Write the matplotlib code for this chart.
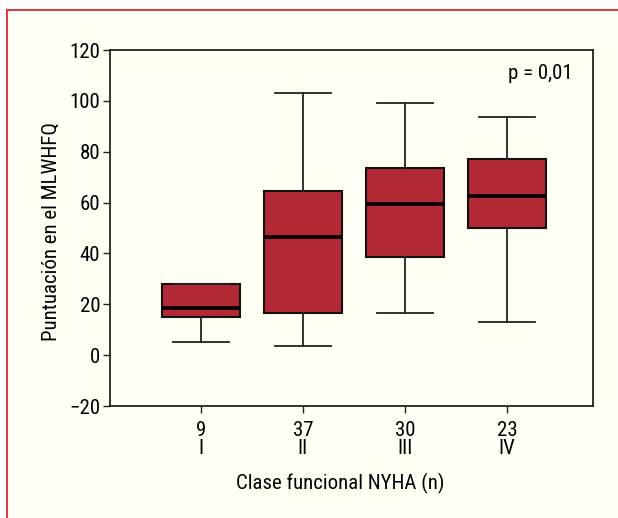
import matplotlib
matplotlib.use("Agg")
import matplotlib.pyplot as plt
from matplotlib.lines import Line2D
from matplotlib.patches import Rectangle

# Data
categories = ["I", "II", "III", "IV"]
counts = [9, 37, 30, 23]
whislo = [5, 3.5, 16.5, 13]
q1 = [15, 16.5, 38.5, 50]
med = [18.5, 46.5, 59.5, 62.5]
q3 = [28, 64.5, 73.5, 77]
whishi = [28, 103, 99, 93.5]
tick_labels = [f"{n}\n{c}" for n, c in zip(counts, categories)]

fam = ["Roboto Condensed", "Liberation Sans Narrow", "Roboto", "DejaVu Sans"]
plt.rcParams["font.family"] = fam
FS = 15

W, H = 618, 518
fig = plt.figure(figsize=(W / 100, H / 100), dpi=100, facecolor="white")

# cream panel with red border on top/left
fig.patches.append(Rectangle((7 / W, 0), 1 - 7 / W, 1 - 10 / H, transform=fig.transFigure,
                             facecolor="#fffff3", edgecolor="none", zorder=-5))
fig.lines.append(Line2D([7 / W, 1], [1 - 10 / H, 1 - 10 / H], transform=fig.transFigure,
                        color="#d8404c", lw=1.5, zorder=-4))
fig.lines.append(Line2D([7 / W, 7 / W], [0, 1 - 10 / H], transform=fig.transFigure,
                        color="#d8404c", lw=1.5, zorder=-4))

left, right, top, bottom = 110 / W, 593 / W, 1 - 50 / H, 1 - 406 / H
ax = fig.add_axes([left, bottom, right - left, top - bottom])
ax.set_zorder(5)
ax.set_facecolor("#fffff3")

stats = []
for i in range(len(categories)):
    stats.append(dict(whislo=whislo[i], q1=q1[i], med=med[i], q3=q3[i],
                      whishi=whishi[i], fliers=[]))
positions = list(range(1, len(categories) + 1))
ax.bxp(stats, positions=positions, widths=0.765, capwidths=0.54, patch_artist=True,
       showfliers=False,
       boxprops=dict(facecolor="#b22834", edgecolor="#111111", linewidth=1.5),
       medianprops=dict(color="black", linewidth=2.6),
       whiskerprops=dict(color="#222222", linewidth=1.3),
       capprops=dict(color="#222222", linewidth=1.3))

ax.set_xlim(0.108, 4.843)
ax.set_ylim(-20, 120)
ax.set_yticks(range(-20, 121, 20))
ax.set_xticks(positions)
ax.set_xticklabels(tick_labels, linespacing=0.95)
ax.tick_params(axis="both", labelsize=FS, length=5, width=1.0, color="#222222")
ax.tick_params(axis="x", pad=5.5)
ax.tick_params(axis="y", pad=2)
for s in ax.spines.values():
    s.set_linewidth(1.2)
    s.set_color("#111111")

ax.set_ylabel("Puntuación en el MLWHFQ", fontsize=FS)
ax.yaxis.set_label_coords(-0.102, 0.49)
ax.set_xlabel("Clase funcional NYHA (n)", fontsize=FS)
ax.xaxis.set_label_coords(0.476, -0.188)

ax.text(0.958, 0.935, "p = 0,01", transform=ax.transAxes, ha="right", va="center",
        fontsize=FS)

fig.savefig("out.png", dpi=100, facecolor="white")
